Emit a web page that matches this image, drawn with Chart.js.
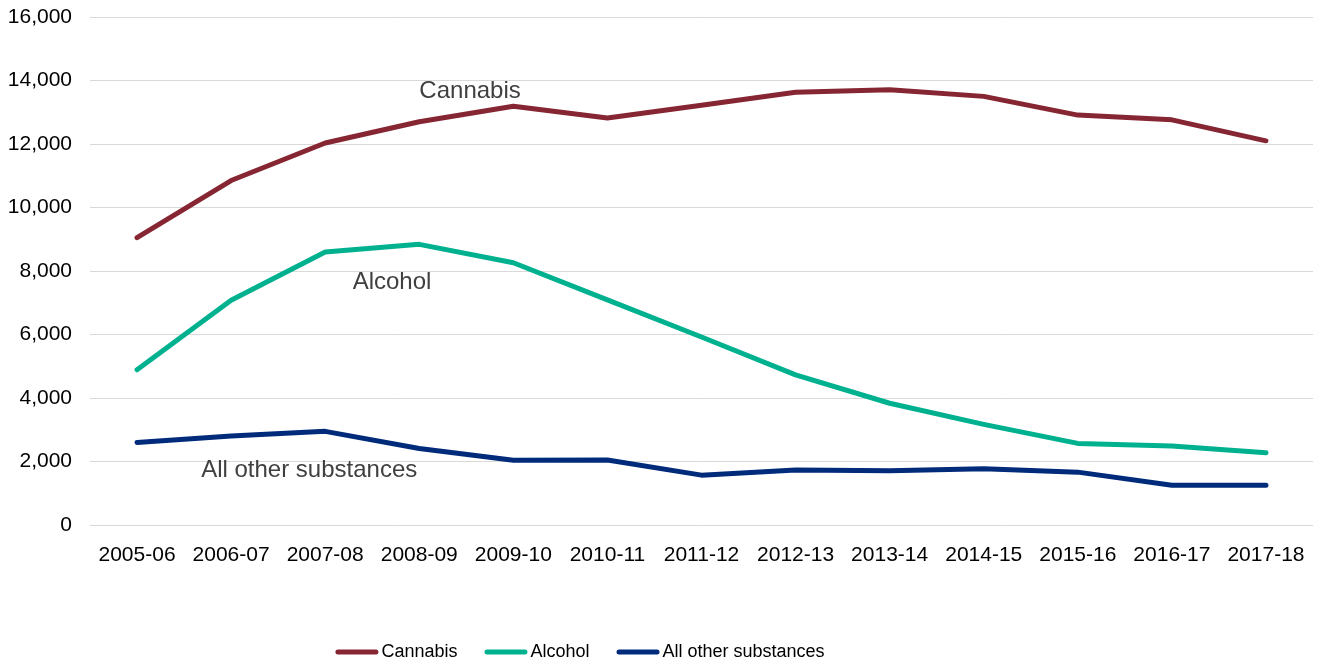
<!DOCTYPE html>
<html>
<head>
<meta charset="utf-8">
<script src="https://cdn.jsdelivr.net/npm/chart.js@4"></script>
<style>
	html, body { margin: 0; padding: 0; background: #fff; }
	#wrap { width: 1321px; height: 667px; }
</style>
</head>
<body>
<div id="wrap"><canvas id="myChart"></canvas></div>
<script>
const years = [
	'2005-06', '2006-07', '2007-08', '2008-09', '2009-10', '2010-11', '2011-12',
	'2012-13', '2013-14', '2014-15', '2015-16', '2016-17', '2017-18',
];
const cannabis = [9050, 10850, 12030, 12700, 13190, 12820, 13220, 13630, 13710, 13500, 12910, 12760, 12100];
const alcohol = [4890, 7080, 8600, 8840, 8260, 7090, 5920, 4730, 3835, 3170, 2570, 2490, 2275];
const otherSubstances = [2600, 2800, 2950, 2410, 2040, 2050, 1570, 1730, 1710, 1770, 1665, 1255, 1255];

// in-chart series names: [text, category index, value]
const seriesLabels = [
	['Cannabis', 3.54, 13670],
	['Alcohol', 2.71, 7630],
	['All other substances', 1.83, 1730],
];

const font = 'Liberation Sans, Arial, sans-serif';

const lineStyle = color => ({
	borderColor: color,
	backgroundColor: color,
	borderWidth: 5,
	borderCapStyle: 'round',
	borderJoinStyle: 'round',
	pointRadius: 0,
	tension: 0,
});

const seriesLabelPlugin = {
	id: 'seriesLabels',
	afterDatasetsDraw: chart => {
		const ctx = chart.ctx;
		const x = chart.scales.x;
		const y = chart.scales.y;
		ctx.save();
		ctx.font = `24px ${font}`;
		ctx.fillStyle = '#404040';
		ctx.textAlign = 'center';
		ctx.textBaseline = 'middle';
		seriesLabels.forEach(([text, idx, val]) => {
			const px = x.getPixelForValue(0) + idx * (x.getPixelForValue(1) - x.getPixelForValue(0));
			ctx.fillText(text, px, y.getPixelForValue(val));
		});
		ctx.restore();
	},
};

// legend row under the axis: short round-capped line, then the name
const legendRow = {
	id: 'legendRow',
	afterDraw: chart => {
		const ctx = chart.ctx;
		const swatch = 43, gap = 3, itemGap = 27;
		const centerX = 580, rowY = 652;
		ctx.save();
		ctx.font = `18px ${font}`;
		ctx.textBaseline = 'middle';
		const sets = chart.data.datasets;
		const widths = sets.map(ds => swatch + gap + ctx.measureText(ds.label).width);
		const total = widths.reduce((a, b) => a + b, 0) + itemGap * (sets.length - 1);
		let cx = centerX - total / 2;
		sets.forEach((ds, i) => {
			ctx.beginPath();
			ctx.lineWidth = 5;
			ctx.lineCap = 'round';
			ctx.strokeStyle = ds.borderColor;
			ctx.moveTo(cx + 2.5, rowY);
			ctx.lineTo(cx + swatch - 2.5, rowY);
			ctx.stroke();
			ctx.fillStyle = '#000';
			ctx.fillText(ds.label, cx + swatch + gap, rowY);
			cx += widths[i] + itemGap;
		});
		ctx.restore();
	},
};

const ctx = document.getElementById('myChart');
const chart = new Chart(ctx, {
	type: 'line',
	data: {
		labels: years,
		datasets: [
			{ label: 'Cannabis', data: cannabis, ...lineStyle('#862633') },
			{ label: 'Alcohol', data: alcohol, ...lineStyle('#00b18f') },
			{ label: 'All other substances', data: otherSubstances, ...lineStyle('#002a7a') },
		],
	},
	options: {
		responsive: true,
		maintainAspectRatio: false,
		animation: false,
		layout: { padding: { top: 17, right: 8, left: 0, bottom: 0 } },
		plugins: {
			tooltip: { enabled: false },
			legend: { display: false },
		},
		scales: {
			x: {
				offset: true,
				grid: { display: false },
				border: { display: false },
				ticks: { font: { family: font, size: 21 }, color: '#000', padding: 10, maxRotation: 0, autoSkip: false },
				afterFit: scale => { scale.height = 142; },
			},
			y: {
				min: 0,
				max: 16000,
				grid: { color: '#d9d9d9', lineWidth: 1, drawTicks: false },
				border: { display: false },
				ticks: {
					stepSize: 2000,
					font: { family: font, size: 21 },
					color: '#000',
					padding: 18,
					callback: v => v.toLocaleString('en-US'),
				},
				afterFit: scale => {
					scale.width = 90;
					scale.paddingTop = 0;
					scale.paddingBottom = 0;
				},
			},
		},
	},
	plugins: [seriesLabelPlugin, legendRow],
});
</script>
</body>
</html>
